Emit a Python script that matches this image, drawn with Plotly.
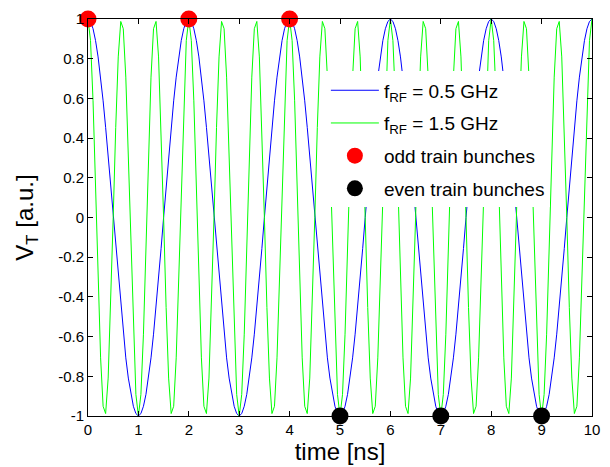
import numpy as np
import plotly.graph_objects as go

# RF frequencies (GHz) and time axis (ns)
f_rf_low = 0.5
f_rf_high = 1.5
t_step = 0.05
t_max = 10.0

# bunch arrival times (ns) and the kick voltage they see
odd_times = [0, 2, 4]
odd_volts = [1, 1, 1]
even_times = [5, 7, 9]
even_volts = [-1, -1, -1]

x_ticks = [0, 1, 2, 3, 4, 5, 6, 7, 8, 9, 10]
y_ticks = [-1, -0.8, -0.6, -0.4, -0.2, 0, 0.2, 0.4, 0.6, 0.8, 1]

t = np.arange(0, t_max + t_step / 2, t_step)
v_low = np.cos(2 * np.pi * f_rf_low * t)
v_high = np.cos(2 * np.pi * f_rf_high * t)

fig = go.Figure()
fig.add_trace(go.Scatter(x=t, y=v_low, mode="lines",
                         line=dict(color="#0000ff", width=1),
                         legendgroup="g1",
                         name="f<sub>RF</sub> = 0.5 GHz"))
fig.add_trace(go.Scatter(x=t, y=v_high, mode="lines",
                         line=dict(color="#00ff00", width=1),
                         legendgroup="g2",
                         name="f<sub>RF</sub> = 1.5 GHz"))
fig.add_trace(go.Scatter(x=odd_times, y=odd_volts, mode="markers",
                         marker=dict(color="#ff0000", size=17),
                         cliponaxis=False, legendgroup="g3",
                         name="odd train bunches"))
fig.add_trace(go.Scatter(x=even_times, y=even_volts, mode="markers",
                         marker=dict(color="#000000", size=17),
                         cliponaxis=False, legendgroup="g4",
                         name="even train bunches"))

axis_common = dict(
    showgrid=False, zeroline=False, showline=True, linecolor="black",
    linewidth=1, mirror="ticks", ticks="inside", ticklen=5,
    tickcolor="black", tickfont=dict(size=15, color="black"),
)

fig.update_layout(
    width=610, height=467,
    margin=dict(l=88, r=10, t=14, b=50),
    paper_bgcolor="white", plot_bgcolor="white",
    font=dict(family="Liberation Sans, Arial, sans-serif", color="black"),
    xaxis=dict(range=[0, 10], tickvals=x_ticks,
               title=dict(text="time [ns]", font=dict(size=24), standoff=2),
               **axis_common),
    yaxis=dict(range=[-1, 1], tickvals=y_ticks,
               ticktext=[f"{v:g}" for v in y_ticks],
               title=dict(text="V<sub>T</sub> [a.u.]", font=dict(size=24), standoff=17),
               **axis_common),
    legend=dict(x=0.472, y=0.868, xanchor="left", yanchor="top",
                bgcolor="white", borderwidth=0, itemwidth=48,
                font=dict(size=19, color="black"), tracegroupgap=5),
    showlegend=True,
)

fig.write_html("out.html")
